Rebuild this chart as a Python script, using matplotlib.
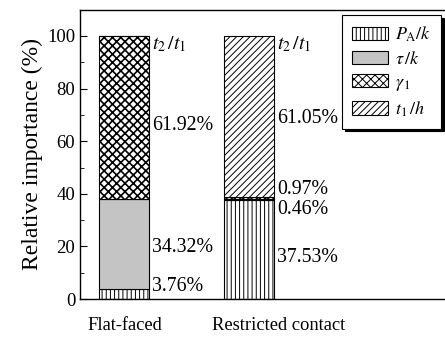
import matplotlib
matplotlib.use('Agg')
import matplotlib.pyplot as plt
import matplotlib.transforms as mtransforms
from matplotlib.patches import Patch
from matplotlib.ticker import MultipleLocator

plt.rcParams['font.family'] = ['Liberation Serif', 'DejaVu Serif']
plt.rcParams['mathtext.fontset'] = 'stix'
plt.rcParams['hatch.linewidth'] = 0.7

# ---- data ----
categories = ['Flat-faced', 'Restricted contact']
series_names = [r'$P_{\rm A}/k$', r'$\tau\,/k$', r'$\gamma_{\,1}$', r'$t_{1}\,/h$']
pa_k = [3.76, 37.53]
tau_k = [34.32, 0.46]
gamma1 = [61.92, 0.97]
t1_h = [0.0, 61.05]
top_label = r'$t_{2}\,/t_{1}$'
# value labels per bar: (text, y position in data units)
flat_labels = [('61.92%', 66.0), ('34.32%', 19.4), ('3.76%', 4.6)]
restricted_labels = [('61.05%', 68.8), ('0.97%', 41.8), ('0.46%', 34.2), ('37.53%', 15.6)]
top_label_y = 96.6

series = [pa_k, tau_k, gamma1, t1_h]
facecolors = ['white', '#c4c4c4', 'white', 'white']
hatches = ['||||', None, 'xxxx', '/////']
hatch_lw = [0.7, 0.7, 1.2, 0.7]

W, H = 445, 348
fig = plt.figure(figsize=(W / 100, H / 100), dpi=100)
ax = fig.add_axes([80 / W, 1 - 299 / H, (470 - 80) / W, (299 - 9.7) / H])

pos = [0, 1]
width = 0.4
bottoms = [0.0, 0.0]
for vals, fc, hc, hl in zip(series, facecolors, hatches, hatch_lw):
    plt.rcParams['hatch.linewidth'] = hl
    ax.bar(pos, vals, width, bottom=bottoms, color=fc, edgecolor='black',
           hatch=hc, linewidth=0.8)
    bottoms = [b + v for b, v in zip(bottoms, vals)]

ax.set_xlim(-0.352, (470 - 124) / 125)
ax.set_ylim(0, 110)
ax.yaxis.set_major_locator(MultipleLocator(20))
ax.yaxis.set_minor_locator(MultipleLocator(10))
ax.tick_params(axis='y', which='both', direction='in', labelsize=13.5, length=5)
ax.tick_params(axis='y', which='minor', length=3)
ax.set_xticks([])
for s in ax.spines.values():
    s.set_linewidth(1.0)
ax.set_ylabel('Relative importance (%)', fontsize=17, labelpad=3)

fs = 14.3
off = mtransforms.offset_copy(ax.transData, fig=fig, x=3, y=0, units='dots')
for p, labels in zip(pos, [flat_labels, restricted_labels]):
    xr = p + width / 2
    for txt, yv in labels:
        ax.text(xr, yv, txt, transform=off, fontsize=fs, ha='left', va='center')
    ax.text(xr, top_label_y, top_label, transform=off, fontsize=fs, ha='left', va='center')

# category labels under bars
xl = mtransforms.blended_transform_factory(ax.transData, fig.transFigure)
xl_off = mtransforms.offset_copy(xl, fig=fig, x=-12, y=0, units='dots')
for p, c in zip(pos, categories):
    fig.text(p - width / 2, 1 - 325 / H, c, transform=xl_off, fontsize=13.3,
             ha='left', va='center')

handles = []
for fc, hc, hl in zip(facecolors, hatches, hatch_lw):
    plt.rcParams['hatch.linewidth'] = hl
    handles.append(Patch(facecolor=fc, edgecolor='black', hatch=hc, linewidth=0.8))
plt.rcParams['hatch.linewidth'] = 0.7
leg = ax.legend(handles, series_names, loc='upper left',
                bbox_to_anchor=(342 / W, 1 - 15 / H), bbox_transform=fig.transFigure,
                borderaxespad=0, fancybox=False, edgecolor='black', framealpha=1,
                shadow={'color': 'black', 'alpha': 1}, fontsize=13,
                handlelength=2.0, handleheight=0.75, labelspacing=0.35,
                handletextpad=0.4, borderpad=0.55)
leg.get_frame().set_linewidth(0.8)

fig.savefig('out.png', dpi=100)
